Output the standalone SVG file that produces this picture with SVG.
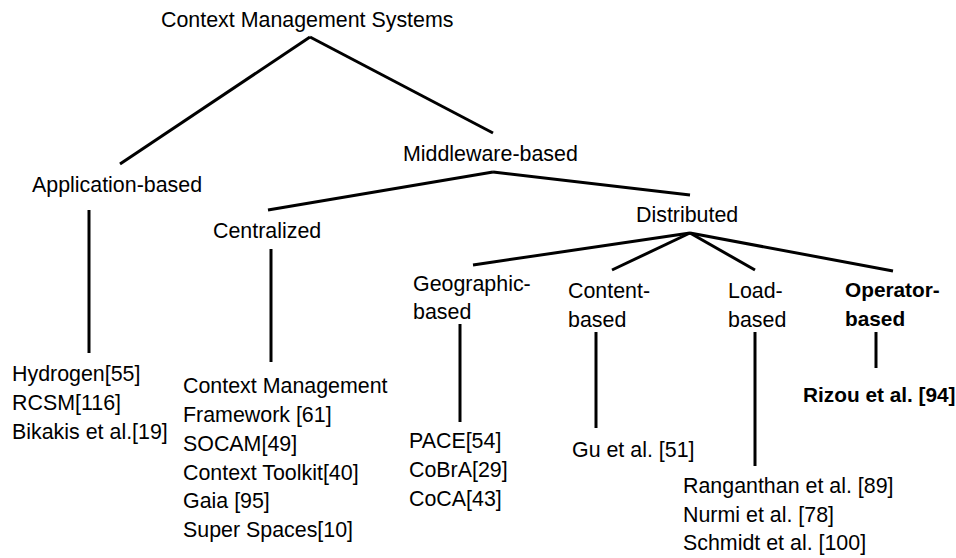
<svg xmlns="http://www.w3.org/2000/svg" width="956" height="558" viewBox="0 0 956 558">
<style>
text{font-family:"Liberation Sans",Arial,sans-serif;font-size:21.4px;fill:#000}
.b{font-weight:bold;font-size:20.8px}
.c line{stroke:#000;stroke-width:3;stroke-linecap:butt}
</style>
<rect width="956" height="558" fill="#fff"/>
<g class="c" id="connectors">
<line x1="310" y1="37" x2="120" y2="164"/>
<line x1="310" y1="37" x2="493" y2="133"/>
<line x1="493" y1="172" x2="268" y2="210"/>
<line x1="493" y1="172" x2="690" y2="195"/>
<line x1="690" y1="233" x2="473" y2="265"/>
<line x1="690" y1="233" x2="612" y2="270"/>
<line x1="690" y1="233" x2="755" y2="270"/>
<line x1="690" y1="233" x2="893" y2="271"/>
<line x1="89" y1="210" x2="89" y2="353"/>
<line x1="271" y1="249" x2="271" y2="362"/>
<line x1="460" y1="324" x2="460" y2="422"/>
<line x1="596" y1="332" x2="596" y2="428"/>
<line x1="755" y1="332" x2="755" y2="466"/>
<line x1="876" y1="332" x2="876" y2="368"/>
</g>
<g id="root"><text x="161" y="27">Context Management Systems</text></g>
<g id="application"><text x="32" y="192">Application-based</text></g>
<g id="middleware"><text x="403" y="161">Middleware-based</text></g>
<g id="centralized"><text x="213" y="238">Centralized</text></g>
<g id="distributed"><text x="636" y="222">Distributed</text></g>
<g id="geographic"><text x="413" y="291">Geographic-</text><text x="413" y="319">based</text></g>
<g id="content"><text x="568" y="298">Content-</text><text x="568" y="327">based</text></g>
<g id="load"><text x="728" y="298">Load-</text><text x="728" y="327">based</text></g>
<g id="operator"><text class="b" x="845" y="297">Operator-</text><text class="b" x="845" y="326">based</text></g>
<g id="app-list"><text x="12" y="381">Hydrogen[55]</text><text x="12" y="410">RCSM[116]</text><text x="12" y="439">Bikakis et al.[19]</text></g>
<g id="central-list"><text x="183" y="393">Context Management</text><text x="183" y="422">Framework [61]</text><text x="183" y="451">SOCAM[49]</text><text x="183" y="480">Context Toolkit[40]</text><text x="183" y="508">Gaia [95]</text><text x="183" y="537">Super Spaces[10]</text></g>
<g id="geo-list"><text x="409" y="448">PACE[54]</text><text x="409" y="477">CoBrA[29]</text><text x="409" y="506">CoCA[43]</text></g>
<g id="content-list"><text x="572" y="457">Gu et al. [51]</text></g>
<g id="load-list"><text x="683" y="493">Ranganthan et al. [89]</text><text x="683" y="522">Nurmi et al. [78]</text><text x="683" y="550">Schmidt et al. [100]</text></g>
<g id="operator-list"><text class="b" x="803" y="402">Rizou et al. [94]</text></g>
</svg>
